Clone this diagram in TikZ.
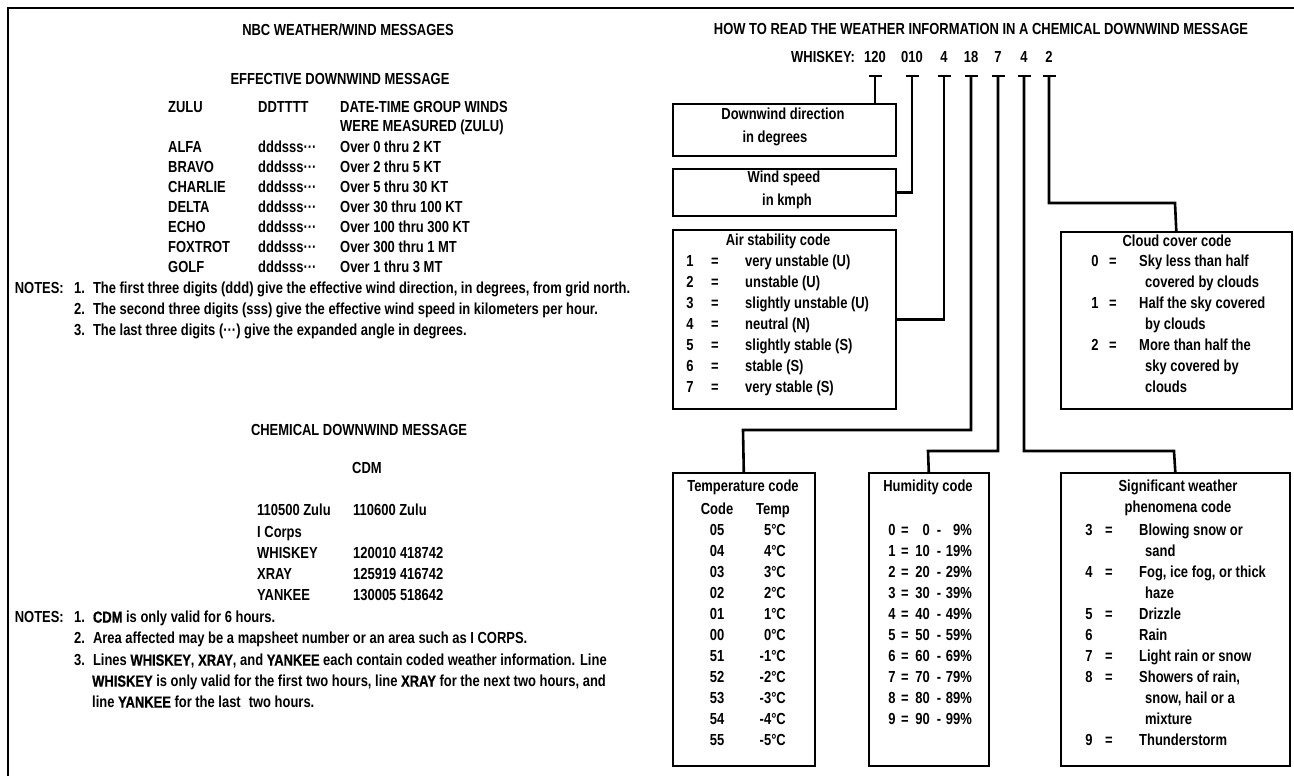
\documentclass[tikz,border=0pt]{standalone}
\usepackage{fontspec}
\setmainfont{Liberation Sans}[FakeStretch=0.81]
\newfontfamily\hvy{Liberation Sans}[FakeStretch=0.81, FakeBold=0.8]
\newcommand\myfnt{\fontsize{16}{18}\selectfont\bfseries}
\newcommand\kw[1]{{\hvy\bfseries #1}}
\begin{document}
\begin{tikzpicture}[x=1pt,y=-1pt,
  t/.style={inner sep=0pt, font=\myfnt},
  lt/.style={t, anchor=mid west},
  ct/.style={t, anchor=mid},
  rt/.style={t, anchor=mid east},
  box/.style={draw, line width=1.6pt, inner sep=0pt, anchor=north west},
  conn/.style={line width=2.6pt},
  tbar/.style={fill, inner sep=0pt, minimum width=13pt, minimum height=2.6pt},
  frame/.style={line width=1.8pt}]
\useasboundingbox (0,0) rectangle (1294,776);
% frame
\coordinate (fbl) at (8,776);
\coordinate (ftl) at (8,8);
\coordinate (ftr) at (1294,8);
\draw[frame] (fbl) -- (ftl) -- (ftr);

% ---------------- left: effective downwind message
\node[ct] (nbc) at (348,33) {NBC WEATHER/WIND MESSAGES};
\node[ct] (edm) at (340,82) {EFFECTIVE DOWNWIND MESSAGE};
\node[lt] (hzulu) at (168,110) {ZULU};
\node[lt] (hddt) at (258,110) {DDTTTT};
\node[lt] (hdtg) at (340,110) {DATE-TIME GROUP WINDS};
\node[lt] (hdtg2) at (340,129) {WERE MEASURED (ZULU)};
\foreach \nm/\rg [count=\i from 0] in {ALFA/Over 0 thru 2 KT, BRAVO/Over 2 thru 5 KT, CHARLIE/Over 5 thru 30 KT, DELTA/Over 30 thru 100 KT, ECHO/Over 100 thru 300 KT, FOXTROT/Over 300 thru 1 MT, GOLF/Over 1 thru 3 MT}{
  \node[lt] (en\i) at (168,150+20*\i) {\nm};
  \node[lt] (ed\i) at (258,150+20*\i) {dddsss···};
  \node[lt] (er\i) at (340,150+20*\i) {\rg};
}
\node[rt] (notesa) at (64,291) {NOTES:};
\node[lt] (na1) at (74,291) {1.\enspace The first three digits (ddd) give the effective wind direction, in degrees, from grid north.};
\node[lt] (na2) at (74,312) {2.\enspace The second three digits (sss) give the effective wind speed in kilometers per hour.};
\node[lt] (na3) at (74,333) {3.\enspace The last three digits (···) give the expanded angle in degrees.};

% ---------------- left: chemical downwind message
\node[ct] (cdmt) at (359,433) {CHEMICAL DOWNWIND MESSAGE};
\node[ct] (cdm) at (367,471) {CDM};
\node[lt] (c1a) at (257,513) {110500 Zulu};
\node[lt] (c1b) at (353,513) {110600 Zulu};
\node[lt] (c2a) at (257,535) {I Corps};
\node[lt] (c3a) at (257,556) {WHISKEY};
\node[lt] (c3b) at (353,556) {120010 418742};
\node[lt] (c4a) at (257,577) {XRAY};
\node[lt] (c4b) at (353,577) {125919 416742};
\node[lt] (c5a) at (257,598) {YANKEE};
\node[lt] (c5b) at (353,598) {130005 518642};
\node[rt] (notesb) at (64,620) {NOTES:};
\node[lt] (nb1) at (74,620) {1.\enspace \kw{CDM} is only valid for 6 hours.};
\node[lt] (nb2) at (74,641) {2.\enspace Area affected may be a mapsheet number or an area such as I CORPS.};
\node[lt] (nb3) at (74,663) {3.\enspace Lines \kw{WHISKEY}, \kw{XRAY}, and \kw{YANKEE} each contain coded weather information. Line};
\node[lt] (nb4) at (92,684) {\kw{WHISKEY} is only valid for the first two hours, line \kw{XRAY} for the next two hours, and};
\node[lt] (nb5) at (92,705) {line \kw{YANKEE} for the last\enspace two hours.};

% ---------------- right: how to read
\node[ct] (howt) at (981,32) {HOW TO READ THE WEATHER INFORMATION IN A CHEMICAL DOWNWIND MESSAGE};
\node[lt] (wk) at (791,60) {WHISKEY:};
\foreach \nm/\xx/\tx in {120/875/120, 010/912/010, 4a/944/4, 18/971/18, 7/998/7, 4b/1024/4, 2/1049/2}{
  \node[ct] (n\nm) at (\xx,60) {\tx};
  \node[tbar] (b\nm) at (\xx,76) {};
}

% boxes
\node[box, minimum width=223pt, minimum height=52pt] (dbox) at (672,103) {};
\node[box, minimum width=223pt, minimum height=47pt] (wbox) at (672,168) {};
\node[box, minimum width=223pt, minimum height=179pt] (abox) at (672,229) {};
\node[box, minimum width=231pt, minimum height=177pt] (cbox) at (1060,231) {};
\node[box, minimum width=142pt, minimum height=293pt] (tbox) at (672,472) {};
\node[box, minimum width=120pt, minimum height=293pt] (hbox) at (868,472) {};
\node[box, minimum width=229pt, minimum height=293pt] (sbox) at (1060,472) {};

% connectors
\coordinate (c18) at (743,430);
\coordinate (c7) at (928,451);
\coordinate (c4b) at (1174,451);
\coordinate (c2) at (1175,203);
\draw[conn] (b120.center) -- (dbox.north -| b120);
\draw[conn] (b010.center) |- (wbox.east);
\draw[conn] (b4a.center) |- (abox.east);
\draw[conn] (b18.center) |- (c18) -- (tbox.north);
\draw[conn] (b7.center) |- (c7) -- (hbox.north);
\draw[conn] (b4b.center) |- (c4b) -- (sbox.north);
\draw[conn] (b2.center) |- (c2) -- (cbox.north);

% downwind / wind speed
\node[ct] (d1) at (783,117) {Downwind direction};
\node[ct] (d2) at (775,140) {in degrees};
\node[ct] (w1) at (784,180) {Wind speed};
\node[ct] (w2) at (787,203) {in kmph};

% air stability
\node[ct] (at) at (778,243) {Air stability code};
\foreach \d/\tx [count=\i from 0] in {1/very unstable (U), 2/unstable (U), 3/slightly unstable (U), 4/neutral (N), 5/slightly stable (S), 6/stable (S), 7/very stable (S)}{
  \node[ct] (ad\i) at (690,264+20.9*\i) {\d};
  \node[ct] (ae\i) at (715,264+20.9*\i) {=};
  \node[lt] (ax\i) at (745,264+20.9*\i) {\tx};
}

% cloud cover
\node[ct] (ct) at (1177,244) {Cloud cover code};
\foreach \d/\tx/\k in {0/Sky less than half/0, 1/Half the sky covered/2, 2/More than half the/4}{
  \node[ct] (cd\d) at (1095,264+20.9*\k) {\d};
  \node[ct] (ce\d) at (1113,264+20.9*\k) {=};
  \node[lt] (cx\d) at (1139,264+20.9*\k) {\tx};
}
\node[lt] (cy0) at (1145,284.9) {covered by clouds};
\node[lt] (cy1) at (1145,326.7) {by clouds};
\node[lt] (cy2) at (1145,368.5) {sky covered by};
\node[lt] (cy3) at (1145,389.4) {clouds};

% temperature
\node[ct] (tt) at (743,489) {Temperature code};
\node[ct] (tc) at (717,512) {Code};
\node[ct] (tp) at (773,512) {Temp};
\foreach \c/\v [count=\i from 0] in {05/5°C, 04/4°C, 03/3°C, 02/2°C, 01/1°C, 00/0°C, 51/-1°C, 52/-2°C, 53/-3°C, 54/-4°C, 55/-5°C}{
  \node[ct] (tcd\i) at (717,533+21*\i) {\c};
  \node[rt] (tv\i) at (786,533+21*\i) {\v};
}

% humidity
\node[ct] (ht) at (928,489) {Humidity code};
\foreach \c/\a/\b [count=\i from 0] in {0/0/9, 1/10/19, 2/20/29, 3/30/39, 4/40/49, 5/50/59, 6/60/69, 7/70/79, 8/80/89, 9/90/99}{
  \node[ct] (hc\i) at (892,533+21*\i) {\c};
  \node[ct] (he\i) at (905,533+21*\i) {=};
  \node[rt] (ha\i) at (930,533+21*\i) {\a};
  \node[ct] (hd\i) at (939,533+21*\i) {-};
  \node[rt] (hb\i) at (972,533+21*\i) {\b\%};
}

% significant weather
\node[ct] (st1) at (1178,489) {Significant weather};
\node[ct] (st2) at (1178,510) {phenomena code};
\foreach \d/\e/\tx/\k in {3/=/Blowing snow or/0, 4/=/{Fog, ice fog, or thick}/2, 5/=/Drizzle/4, 6//Rain/5, 7/=/Light rain or snow/6, 8/=/{Showers of rain,}/7, 9/=/Thunderstorm/10}{
  \node[ct] (sd\d) at (1089,533+21*\k) {\d};
  \node[ct] (se\d) at (1109,533+21*\k) {\e};
  \node[lt] (sx\d) at (1139,533+21*\k) {\tx};
}
\node[lt] (sy1) at (1145,554) {sand};
\node[lt] (sy2) at (1145,596) {haze};
\node[lt] (sy3) at (1145,701) {snow, hail or a};
\node[lt] (sy4) at (1145,722) {mixture};
\end{tikzpicture}
\end{document}
